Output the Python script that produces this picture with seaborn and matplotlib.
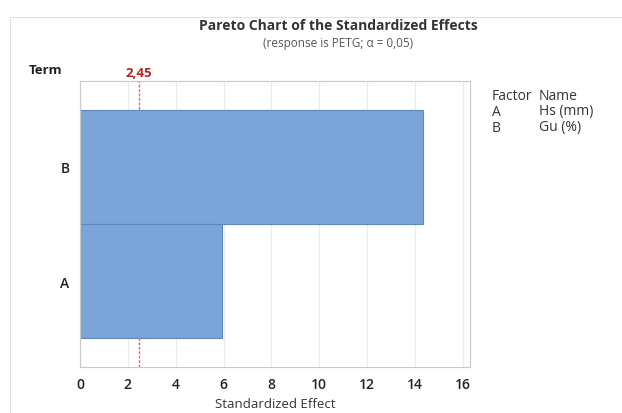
import matplotlib
matplotlib.use("Agg")
import matplotlib.pyplot as plt
import seaborn as sns
import pandas as pd

# data
terms = ["B", "A"]
effects = [14.35, 5.95]
critical = 2.45
factors = ["A", "B"]
names = ["Hs (mm)", "Gu (%)"]

sns.set_style("white")
plt.rcParams['font.family'] = ['Open Sans', 'DejaVu Sans']

df = pd.DataFrame({"Term": terms, "Effect": effects})

fig = plt.figure(figsize=(6.22, 4.14), dpi=100)
ax = fig.add_axes([80/622, 1-368/414, 390/622, 286/414])

sns.barplot(data=df, x="Effect", y="Term", order=terms, orient="h", width=1.0,
            color="#7BA5D8", edgecolor="#5E88BF", linewidth=0.8, saturation=1, ax=ax)

ax.set_xlim(0, 16.3)
ax.set_ylim(1.75, -0.75)
ax.set_xticks(range(0, 17, 2))
ax.grid(axis="x", color="#EBEBEB", linewidth=0.8)
ax.set_axisbelow(True)
for s in ax.spines.values():
    s.set_color("#C8C8C8")
    s.set_linewidth(0.8)
ax.tick_params(axis="both", length=4, color="#C8C8C8", labelsize=10, labelcolor="#222222")
for lab in ax.get_xticklabels() + ax.get_yticklabels():
    lab.set_fontweight("semibold")
ax.set_xlabel("Standardized Effect", fontsize=9.5, color="#333333")
ax.set_ylabel("")

# critical value line
ax.axvline(critical, color="#F06060", linestyle=(0, (2, 1.2)), linewidth=1.0, zorder=0.5)
ax.text(critical, -0.77, "2,45", color="#B22222", fontsize=9.5, fontweight="bold",
        ha="center", va="bottom")

fig.text(46/622, 1-70/414, "Term", fontsize=9.5, fontweight="bold", ha="center", va="center", color="#222222")

fig.text(338/622, 1-26/414, "Pareto Chart of the Standardized Effects", fontsize=10,
         fontweight="bold", ha="center", va="center", color="#333333")
fig.text(338/622, 1-43/414, "(response is PETG; \u03b1 = 0,05)", fontsize=8.5,
         ha="center", va="center", color="#555555")

# factor legend
fig.text(492/622, 1-96/414, "Factor", fontsize=10, va="center", color="#333333")
fig.text(539/622, 1-96/414, "Name", fontsize=10, va="center", color="#333333")
for i, (f, n) in enumerate(zip(factors, names)):
    y = 1 - (112 + 16*i)/414
    fig.text(492/622, y, f, fontsize=10, va="center", color="#333333")
    fig.text(539/622, y, n, fontsize=10, va="center", color="#333333")

# outer frame
fig.add_artist(plt.Rectangle((10/622, -0.01), 1.1, 1-18/414+0.01, transform=fig.transFigure,
                             fill=False, edgecolor="#E0E0E0", linewidth=0.8))

fig.savefig("out.png", dpi=100)
